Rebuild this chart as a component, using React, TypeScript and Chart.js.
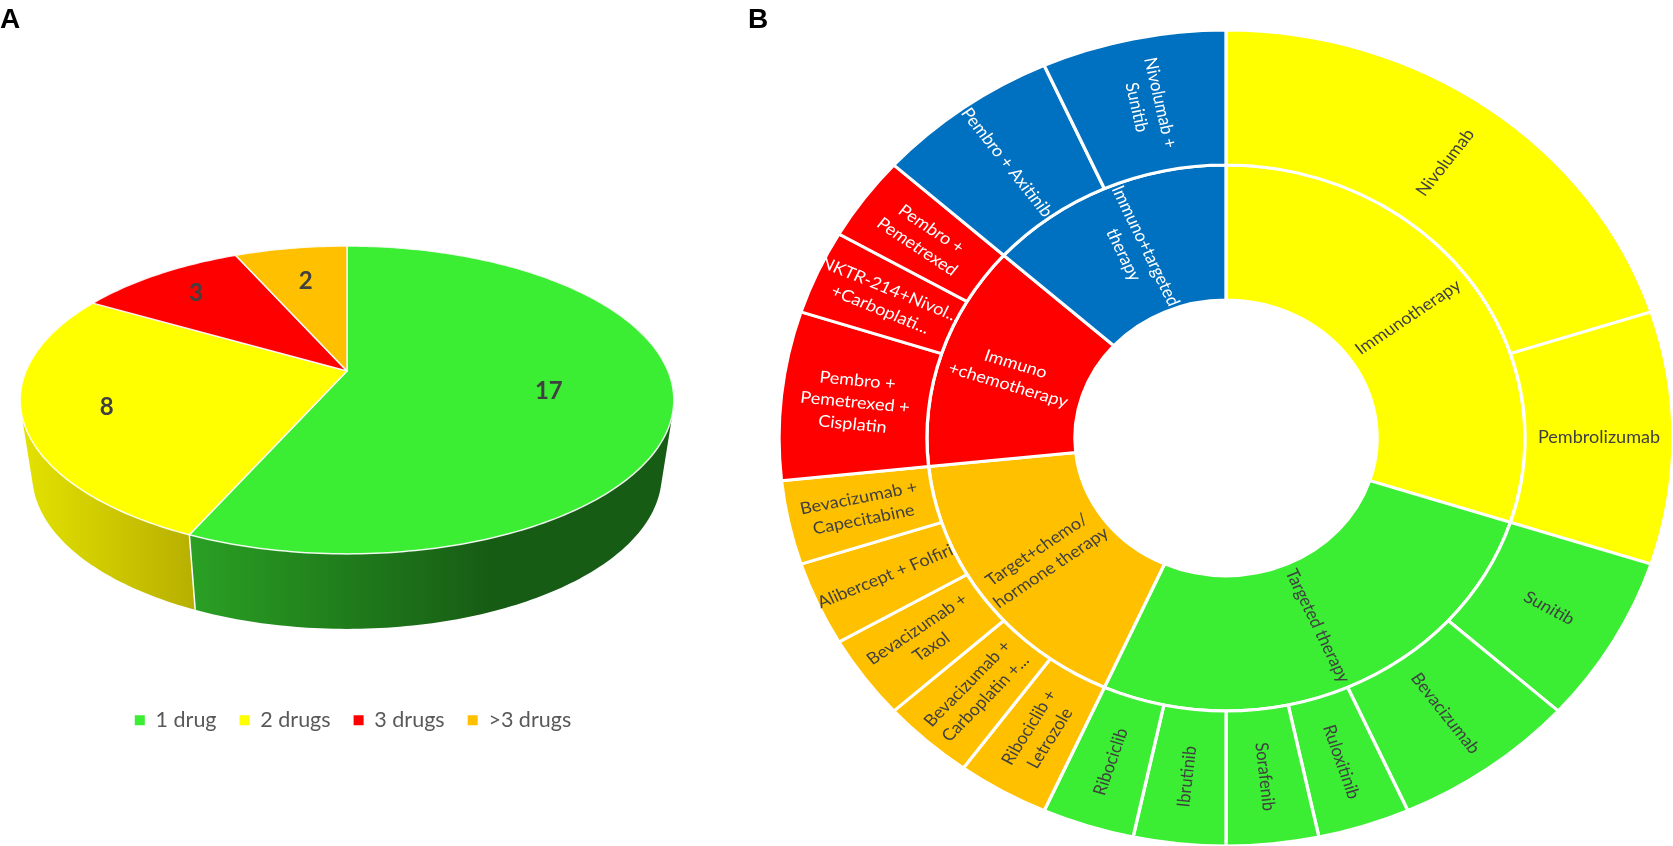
import React, { useEffect, useRef } from "react";
import { Chart, registerables } from "chart.js";

Chart.register(...registerables);

const pieCategories = ["1 drug", "2 drugs", "3 drugs", ">3 drugs"];
const pieValues = [17, 8, 3, 2];
const pieColors = ["#3bed33", "#ffff00", "#ff0000", "#ffc000"];
const pieLabelRadius = [0.627, 0.753, 0.78, 0.7];

const drugLabels = [
  "Nivolumab", "Pembrolizumab", "Sunitib", "Bevacizumab", "Ruloxitinib", "Sorafenib", "Ibrutinib", "Ribociclib",
  "Ribociclib +\nLetrozole", "Bevacizumab +\nCarboplatin +...", "Bevacizumab +\nTaxol", "Alibercept + Folfiri",
  "Bevacizumab +\nCapecitabine", "Pembro +\nPemetrexed +\nCisplatin", "NKTR-214+Nivol...\n+Carboplati...",
  "Pembro +\nPemetrexed", "Pembro + Axitinib", "Nivolumab +\nSunitib",
];
const drugValues = [6, 3, 2, 2, 1, 1, 1, 1, 1, 1, 1, 1, 1, 2, 1, 1, 2, 2];
const drugColors = [
  "#ffff00", "#ffff00", "#3bed33", "#3bed33", "#3bed33", "#3bed33", "#3bed33", "#3bed33",
  "#ffc000", "#ffc000", "#ffc000", "#ffc000", "#ffc000", "#ff0000", "#ff0000", "#ff0000", "#0070c0", "#0070c0",
];
const classLabels = ["Immunotherapy", "Targeted therapy", "Target+chemo/\nhormone therapy", "Immuno\n+chemotherapy", "Immuno+targeted\ntherapy"];
const classValues = [9, 8, 5, 4, 4];
const classColors = ["#ffff00", "#3bed33", "#ffc000", "#ff0000", "#0070c0"];

const DARK = "#404040";
const textColor = (fill: string) => (fill === "#ff0000" || fill === "#0070c0" ? "#ffffff" : DARK);

// perspective projection of the flat pie disc
const APEX = { x: 347, y: 371 };
const PX = 321, PY = 148.5, P = 0.188, DEPTH = 75, SHRINK = 0.963;
function project(theta: number, r = 1) {
  const sx = r * Math.sin(theta), sy = -r * Math.cos(theta);
  const w = 1 - P * sy;
  return { x: APEX.x + (PX * sx) / w, y: APEX.y + (PY * sy) / w };
}
const lower = (p: { x: number; y: number }) => ({ x: APEX.x + (p.x - APEX.x) * SHRINK, y: p.y + DEPTH });
const STEP = Math.PI / 180;

const pie3d = {
  id: "pie3d",
  beforeDatasetsDraw(chart: any) {
    const ctx = chart.ctx as CanvasRenderingContext2D;
    const arcs = chart.getDatasetMeta(0).data;
    const angles = arcs.map((a: any) => [a.startAngle + Math.PI / 2, a.endAngle + Math.PI / 2]);
    ctx.save();
    const wallFill = (i: number) => {
      if (i === 0) {
        const g = ctx.createLinearGradient(190, 0, 490, 0);
        g.addColorStop(0, "#2aa024");
        g.addColorStop(1, "#175c14");
        return g;
      }
      if (i === 1) {
        const g = ctx.createLinearGradient(22, 0, 192, 0);
        g.addColorStop(0, "#e4e200");
        g.addColorStop(1, "#b8b000");
        return g;
      }
      return pieColors[i];
    };
    // side walls: the sweep of the rim, as bands gathered into one path per slice
    angles.forEach(([s, e]: number[], i: number) => {
      ctx.fillStyle = wallFill(i);
      ctx.beginPath();
      for (let t = s; t < e; t += STEP) {
        const a = project(t);
        const b = project(Math.min(t + STEP, e));
        const c = lower(b);
        const d = lower(a);
        const cross = (b.x - a.x) * (d.y - a.y) - (b.y - a.y) * (d.x - a.x);
        const pts = cross >= 0 ? [a, b, c, d] : [d, c, b, a];
        pts.forEach((p, k) => (k ? ctx.lineTo(p.x, p.y) : ctx.moveTo(p.x, p.y)));
        ctx.closePath();
      }
      ctx.fill();
    });
    // seam between visible walls
    const seamA = project(angles[0][1]);
    const seamB = lower(seamA);
    ctx.strokeStyle = "#ffffff";
    ctx.lineWidth = 1.5;
    ctx.beginPath();
    ctx.moveTo(seamA.x, seamA.y);
    ctx.lineTo(seamB.x, seamB.y);
    ctx.stroke();
    // top faces
    angles.forEach(([s, e]: number[], i: number) => {
      ctx.beginPath();
      ctx.moveTo(APEX.x, APEX.y);
      for (let t = s; t < e; t += STEP) {
        const p = project(t);
        ctx.lineTo(p.x, p.y);
      }
      const end = project(e);
      ctx.lineTo(end.x, end.y);
      ctx.closePath();
      ctx.fillStyle = pieColors[i];
      ctx.fill();
      ctx.strokeStyle = "rgba(255,255,255,0.9)";
      ctx.lineWidth = 1.5;
      ctx.lineJoin = "round";
      ctx.stroke();
    });
    // value labels
    ctx.font = "bold 24px Lato";
    ctx.fillStyle = DARK;
    ctx.textAlign = "center";
    ctx.textBaseline = "middle";
    angles.forEach(([s, e]: number[], i: number) => {
      const p = project((s + e) / 2, pieLabelRadius[i]);
      ctx.fillText(String(pieValues[i]), p.x, p.y);
    });
    ctx.restore();
    return false;
  },
};

const TARGET = { x: 503, y: 438 };
const STRETCH = 447 / 408;
const sunburst = {
  id: "sunburst",
  beforeDatasetsDraw(chart: any) {
    const ctx = chart.ctx as CanvasRenderingContext2D;
    const first = chart.getDatasetMeta(0).data[0];
    ctx.save();
    ctx.translate(TARGET.x, TARGET.y);
    ctx.scale(STRETCH, 1);
    ctx.translate(-first.x, -first.y);
  },
  afterDatasetsDraw(chart: any) {
    const ctx = chart.ctx as CanvasRenderingContext2D;
    ctx.textAlign = "center";
    ctx.textBaseline = "middle";
    ctx.font = "16.5px Lato";
    const rings = [
      { labels: drugLabels, colors: drugColors },
      { labels: classLabels, colors: classColors },
    ];
    rings.forEach((ring, d) => {
      chart.getDatasetMeta(d).data.forEach((arc: any, i: number) => {
        const mid = (arc.startAngle + arc.endAngle) / 2;
        const r = (arc.innerRadius + arc.outerRadius) / 2;
        const deg = ((mid + Math.PI / 2) * 180) / Math.PI;
        const rot = deg > 180 ? mid + Math.PI : mid;
        ctx.save();
        ctx.translate(arc.x + r * Math.cos(mid), arc.y + r * Math.sin(mid));
        ctx.rotate(rot);
        ctx.fillStyle = textColor(ring.colors[i]);
        const lines = ring.labels[i].split("\n");
        lines.forEach((line: string, k: number) => {
          ctx.fillText(line, 0, (k - (lines.length - 1) / 2) * 22);
        });
        ctx.restore();
      });
    });
    ctx.restore();
  },
};

export default function App() {
  const pieRef = useRef<HTMLCanvasElement>(null);
  const sunRef = useRef<HTMLCanvasElement>(null);

  useEffect(() => {
    const pie = new Chart(pieRef.current!, {
      type: "pie",
      data: {
        labels: pieCategories,
        datasets: [{ data: pieValues, backgroundColor: pieColors, borderWidth: 0 }],
      },
      options: {
        responsive: false,
        animation: false,
        plugins: {
          tooltip: { enabled: false },
          legend: {
            position: "bottom",
            labels: {
              boxWidth: 10,
              boxHeight: 10,
              padding: 23,
              color: "#595959",
              font: { family: "Lato", size: 21.5 },
            },
          },
        },
      },
      plugins: [pie3d],
    } as any);
    const sun = new Chart(sunRef.current!, {
      type: "doughnut",
      data: {
        labels: drugLabels,
        datasets: [
          { data: drugValues, backgroundColor: drugColors, borderColor: "#ffffff", borderWidth: 3 },
          { data: classValues, backgroundColor: classColors, borderColor: "#ffffff", borderWidth: 3 },
        ],
      },
      options: {
        responsive: false,
        animation: false,
        radius: 408,
        cutout: "33.8%",
        plugins: { legend: { display: false }, tooltip: { enabled: false } },
      },
      plugins: [sunburst],
    } as any);
    return () => {
      pie.destroy();
      sun.destroy();
    };
  }, []);

  const letter: React.CSSProperties = {
    position: "absolute",
    top: 4,
    font: "bold 28px 'Liberation Sans'",
    color: "#000",
    lineHeight: "30px",
  };
  return (
    <div style={{ position: "absolute", left: 0, top: 0, width: 1673, height: 846, overflow: "hidden", background: "#fff" }}>
      <canvas ref={pieRef} width={706} height={741} style={{ position: "absolute", left: 0, top: 0 }} />
      <canvas ref={sunRef} width={950} height={846} style={{ position: "absolute", left: 723, top: 0 }} />
      <div style={{ ...letter, left: 0 }}>A</div>
      <div style={{ ...letter, left: 748 }}>B</div>
    </div>
  );
}
